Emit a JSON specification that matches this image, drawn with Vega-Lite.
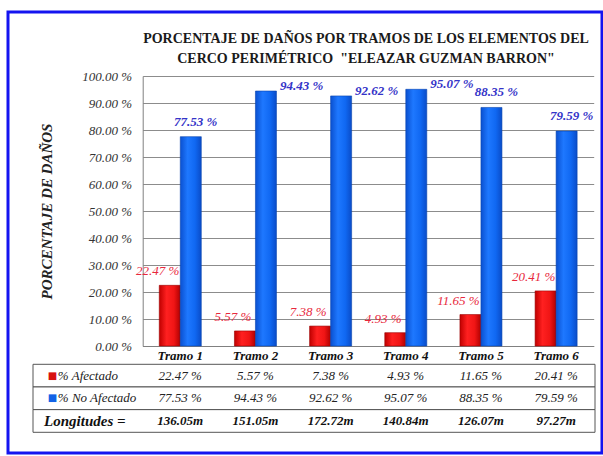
{
  "$schema": "https://vega.github.io/schema/vega-lite/v6.json",
  "width": 594,
  "height": 441,
  "autosize": {"type": "none"},
  "padding": {"left": 8, "top": 12, "right": 1, "bottom": 3},
  "background": "white",
  "config": {
    "view": {"stroke": "#1414f0", "strokeWidth": 3, "fill": "white"},
    "font": "Liberation Serif"
  },
  "title": {
    "text": ["PORCENTAJE DE DAÑOS POR TRAMOS DE LOS ELEMENTOS DEL", "CERCO PERIMÉTRICO \u00a0\"ELEAZAR GUZMAN BARRON\""],
    "font": "Liberation Serif",
    "fontSize": 14,
    "fontWeight": "bold",
    "color": "#1a1a1a",
    "anchor": "middle",
    "dx": 61,
    "offset": -54,
    "lineHeight": 20
  },
  "datasets": {
    "pct": [
      {"tramo": "Tramo 1", "serie": "% Afectado", "pct": 22.47},
      {"tramo": "Tramo 1", "serie": "% No Afectado", "pct": 77.53},
      {"tramo": "Tramo 2", "serie": "% Afectado", "pct": 5.57},
      {"tramo": "Tramo 2", "serie": "% No Afectado", "pct": 94.43},
      {"tramo": "Tramo 3", "serie": "% Afectado", "pct": 7.38},
      {"tramo": "Tramo 3", "serie": "% No Afectado", "pct": 92.62},
      {"tramo": "Tramo 4", "serie": "% Afectado", "pct": 4.93},
      {"tramo": "Tramo 4", "serie": "% No Afectado", "pct": 95.07},
      {"tramo": "Tramo 5", "serie": "% Afectado", "pct": 11.65},
      {"tramo": "Tramo 5", "serie": "% No Afectado", "pct": 88.35},
      {"tramo": "Tramo 6", "serie": "% Afectado", "pct": 20.41},
      {"tramo": "Tramo 6", "serie": "% No Afectado", "pct": 79.59}
    ],
    "len": [
      {"tramo": "Tramo 1", "longitud": 136.05},
      {"tramo": "Tramo 2", "longitud": 151.05},
      {"tramo": "Tramo 3", "longitud": 172.72},
      {"tramo": "Tramo 4", "longitud": 140.84},
      {"tramo": "Tramo 5", "longitud": 126.07},
      {"tramo": "Tramo 6", "longitud": 97.27}
    ],
    "rows": [
      {"fila": "% Afectado"},
      {"fila": "% No Afectado"},
      {"fila": "Longitudes ="}
    ]
  },
  "resolve": {"scale": {"x": "independent", "y": "independent"}},
  "layer": [
    {
      "data": {"name": "pct"},
      "encoding": {
        "x": {
          "field": "tramo", "type": "nominal", "sort": null,
          "scale": {"domain": ["Tramo 1", "Tramo 2", "Tramo 3", "Tramo 4", "Tramo 5", "Tramo 6"], "range": [134.7, 585.7], "paddingInner": 0.441, "paddingOuter": 0.2205},
          "axis": {"title": null, "offset": -107, "labelFont": "Liberation Serif", "labelFontSize": 13, "labelFontWeight": "bold", "labelFontStyle": "italic", "labelColor": "#111111", "labelPadding": 3, "ticks": false, "domainColor": "#808080", "labelAngle": 0, "grid": false}
        },
        "xOffset": {"field": "serie", "type": "nominal", "scale": {"domain": ["% Afectado", "% No Afectado"], "paddingInner": 0, "paddingOuter": 0}},
        "y": {
          "field": "pct", "type": "quantitative",
          "scale": {"domain": [0, 100], "range": [334, 64], "nice": false, "zero": true},
          "axis": {"title": "PORCENTAJE DE DAÑOS", "titleFont": "Liberation Serif", "titleFontSize": 15, "titleFontWeight": "bold", "titleFontStyle": "italic", "titleColor": "#222222", "titlePadding": 27, "offset": -134.7, "values": [0, 10, 20, 30, 40, 50, 60, 70, 80, 90, 100], "labelExpr": "format(datum.value, '.2f') + ' %'", "labelFont": "Liberation Serif", "labelFontSize": 13, "labelFontStyle": "italic", "labelColor": "#333333", "labelPadding": 11, "ticks": false, "domainColor": "#808080", "grid": true, "gridColor": "#8c8c8c"}
        }
      },
      "layer": [
        {
          "transform": [{"filter": "datum.serie == '% Afectado'"}],
          "mark": {"type": "bar", "stroke": "#9a0000", "strokeWidth": 0.6, "fill": {"gradient": "linear", "x1": 0, "x2": 1, "y1": 0, "y2": 0, "stops": [{"offset": 0, "color": "#c00000"}, {"offset": 0.35, "color": "#ff2020"}, {"offset": 0.7, "color": "#f01515"}, {"offset": 1, "color": "#b00000"}]}}
        },
        {
          "transform": [{"filter": "datum.serie == '% No Afectado'"}],
          "mark": {"type": "bar", "stroke": "#0845b0", "strokeWidth": 0.6, "fill": {"gradient": "linear", "x1": 0, "x2": 1, "y1": 0, "y2": 0, "stops": [{"offset": 0, "color": "#0a50d0"}, {"offset": 0.35, "color": "#1e78ff"}, {"offset": 0.7, "color": "#1068f2"}, {"offset": 1, "color": "#0a4cc8"}]}}
        },
        {
          "transform": [{"filter": "datum.serie == '% Afectado'"}, {"calculate": "format(datum.pct, '.2f') + ' %'", "as": "lbl"}],
          "mark": {"type": "text", "font": "Liberation Serif", "fontSize": 13, "fontStyle": "italic", "color": "#e8283c", "dx": -12, "dy": -14, "align": "center", "baseline": "middle"},
          "encoding": {"text": {"field": "lbl"}}
        },
        {
          "transform": [{"filter": "datum.serie == '% No Afectado' && datum.pct < 90"}, {"calculate": "format(datum.pct, '.2f') + ' %'", "as": "lbl"}],
          "mark": {"type": "text", "font": "Liberation Serif", "fontSize": 13, "fontStyle": "italic", "fontWeight": "bold", "color": "#3434c8", "dx": 5, "dy": -15, "align": "center", "baseline": "middle"},
          "encoding": {"text": {"field": "lbl"}}
        },
        {
          "transform": [{"filter": "datum.serie == '% No Afectado' && datum.pct >= 90"}, {"calculate": "format(datum.pct, '.2f') + ' %'", "as": "lbl"}],
          "mark": {"type": "text", "font": "Liberation Serif", "fontSize": 13, "fontStyle": "italic", "fontWeight": "bold", "color": "#3434c8", "dx": 14, "dy": -5, "align": "left", "baseline": "middle"},
          "encoding": {"text": {"field": "lbl"}}
        }
      ]
    },
    {
      "resolve": {"scale": {"x": "independent"}},
      "layer": [
        {
          "data": {"name": "rows"},
          "mark": {"type": "rect", "fill": "white", "stroke": "#555555", "strokeWidth": 1},
          "encoding": {
            "x": {"datum": "tabla", "type": "nominal", "scale": {"domain": ["tabla"], "range": [25, 587], "paddingInner": 0, "paddingOuter": 0}, "axis": null},
            "y": {"field": "fila", "type": "nominal", "sort": null, "scale": {"domain": ["% Afectado", "% No Afectado", "Longitudes ="], "range": [352.3, 420.3], "paddingInner": 0, "paddingOuter": 0}, "axis": null}
          }
        },
        {
          "data": {"name": "pct"},
          "transform": [{"calculate": "format(datum.pct, '.2f') + ' %'", "as": "lbl"}],
          "mark": {"type": "text", "font": "Liberation Serif", "fontSize": 13, "fontStyle": "italic", "color": "#222222", "align": "center", "baseline": "middle"},
          "encoding": {
            "x": {"field": "tramo", "type": "nominal", "sort": null, "scale": {"domain": ["Tramo 1", "Tramo 2", "Tramo 3", "Tramo 4", "Tramo 5", "Tramo 6"], "range": [134.7, 585.7], "paddingInner": 0.441, "paddingOuter": 0.2205}, "axis": null},
            "y": {"field": "serie", "type": "nominal", "axis": null},
            "text": {"field": "lbl"}
          }
        },
        {
          "data": {"name": "len"},
          "transform": [{"calculate": "format(datum.longitud, '.2f') + 'm'", "as": "lbl"}],
          "mark": {"type": "text", "font": "Liberation Serif", "fontSize": 13, "fontStyle": "italic", "fontWeight": "bold", "color": "#111111", "align": "center", "baseline": "middle"},
          "encoding": {
            "x": {"field": "tramo", "type": "nominal", "sort": null, "scale": {"domain": ["Tramo 1", "Tramo 2", "Tramo 3", "Tramo 4", "Tramo 5", "Tramo 6"], "range": [134.7, 585.7], "paddingInner": 0.441, "paddingOuter": 0.2205}, "axis": null},
            "y": {"datum": "Longitudes =", "type": "nominal", "axis": null},
            "text": {"field": "lbl"}
          }
        },
        {
          "data": {"name": "rows"},
          "transform": [{"filter": "datum.fila != 'Longitudes ='"}],
          "mark": {"type": "text", "font": "Liberation Serif", "fontSize": 13, "fontStyle": "italic", "color": "#222222", "align": "left", "baseline": "middle", "dx": -30},
          "encoding": {
            "x": {"datum": "etiqueta", "type": "nominal", "scale": {"domain": ["etiqueta"], "range": [25, 134.7], "paddingInner": 0, "paddingOuter": 0}, "axis": null},
            "y": {"field": "fila", "type": "nominal", "axis": null},
            "text": {"field": "fila"}
          }
        },
        {
          "data": {"name": "rows"},
          "transform": [{"filter": "datum.fila != 'Longitudes ='"}],
          "mark": {"type": "text", "font": "DejaVu Sans", "fontSize": 10, "align": "left", "baseline": "middle", "dx": -40},
          "encoding": {
            "x": {"datum": "etiqueta", "type": "nominal", "scale": {"domain": ["etiqueta"], "range": [25, 134.7], "paddingInner": 0, "paddingOuter": 0}, "axis": null},
            "y": {"field": "fila", "type": "nominal", "axis": null},
            "text": {"value": "■"},
            "color": {"field": "fila", "type": "nominal", "scale": {"domain": ["% Afectado", "% No Afectado"], "range": ["#d81010", "#1262e6"]}, "legend": null}
          }
        },
        {
          "data": {"name": "rows"},
          "transform": [{"filter": "datum.fila == 'Longitudes ='"}],
          "mark": {"type": "text", "font": "Liberation Serif", "fontSize": 15, "fontStyle": "italic", "fontWeight": "bold", "color": "#111111", "align": "center", "baseline": "middle", "dx": -3},
          "encoding": {
            "x": {"datum": "etiqueta", "type": "nominal", "scale": {"domain": ["etiqueta"], "range": [25, 134.7], "paddingInner": 0, "paddingOuter": 0}, "axis": null},
            "y": {"field": "fila", "type": "nominal", "axis": null},
            "text": {"field": "fila"}
          }
        }
      ]
    }
  ]
}
